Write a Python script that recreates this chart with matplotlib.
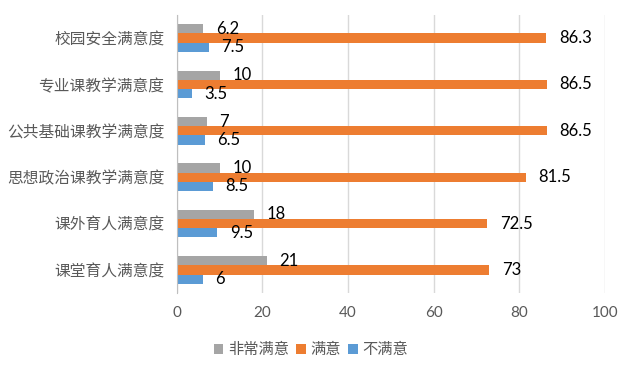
import matplotlib
matplotlib.use("Agg")
import matplotlib.pyplot as plt
import numpy as np

plt.rcParams['font.family'] = ['Noto Sans CJK SC', 'DejaVu Sans']

categories = ["课堂育人满意度", "课外育人满意度", "思想政治课教学满意度",
              "公共基础课教学满意度", "专业课教学满意度", "校园安全满意度"]
very_satisfied = [21, 18, 10, 7, 10, 6.2]
satisfied = [73, 72.5, 81.5, 86.5, 86.5, 86.3]
unsatisfied = [6, 9.5, 8.5, 6.5, 3.5, 7.5]
series_names = ["非常满意", "满意", "不满意"]
colors = ["#A5A5A5", "#ED7D31", "#5B9BD5"]

fig = plt.figure(figsize=(6.27, 3.72), dpi=100)
ax = fig.add_axes([0.282, 0.212, 0.683, 0.748])

y = np.arange(len(categories))
h = 0.2
series = [very_satisfied, satisfied, unsatisfied]
offsets = [h, 0, -h]
for vals, name, col, off in zip(series, series_names, colors, offsets):
    bars = ax.barh(y + off, vals, height=h, color=col, label=name, zorder=3)
    for b, v in zip(bars, vals):
        txt = f"{v:g}"
        ax.annotate(txt, (b.get_width(), b.get_y() + b.get_height() / 2),
                    xytext=(9, 0), textcoords="offset points",
                    ha="left", va="center", fontsize=12, color="black",
                    family=["Lato", "DejaVu Sans"], zorder=5)

ax.set_xlim(0, 100)
ax.set_ylim(-0.5, 5.5)
ax.set_xticks([0, 20, 40, 60, 80, 100])
ax.set_yticks(y)
ax.set_yticklabels(categories, fontsize=11.3, color="#595959", fontweight="light")
for lab in ax.get_xticklabels():
    lab.set_fontsize(11)
    lab.set_color("#595959")
    lab.set_family(["Lato", "DejaVu Sans"])
ax.tick_params(axis="both", length=0)
ax.tick_params(axis="y", pad=9)
ax.tick_params(axis="x", pad=9)
ax.grid(axis="x", color="#D9D9D9", linewidth=1, zorder=0)
for s in ["top", "right", "bottom"]:
    ax.spines[s].set_visible(False)
ax.spines["left"].set_color("#BFBFBF")
ax.spines["left"].set_zorder(4)

leg = fig.legend(loc="lower center", bbox_to_anchor=(0.496, 0.0), ncol=3,
                 frameon=False, fontsize=11, handlelength=0.6, handleheight=0.6,
                 handletextpad=0.3, columnspacing=0.5)
for t in leg.get_texts():
    t.set_color("#595959")
    t.set_fontweight("light")

fig.savefig("out.png", dpi=100)
